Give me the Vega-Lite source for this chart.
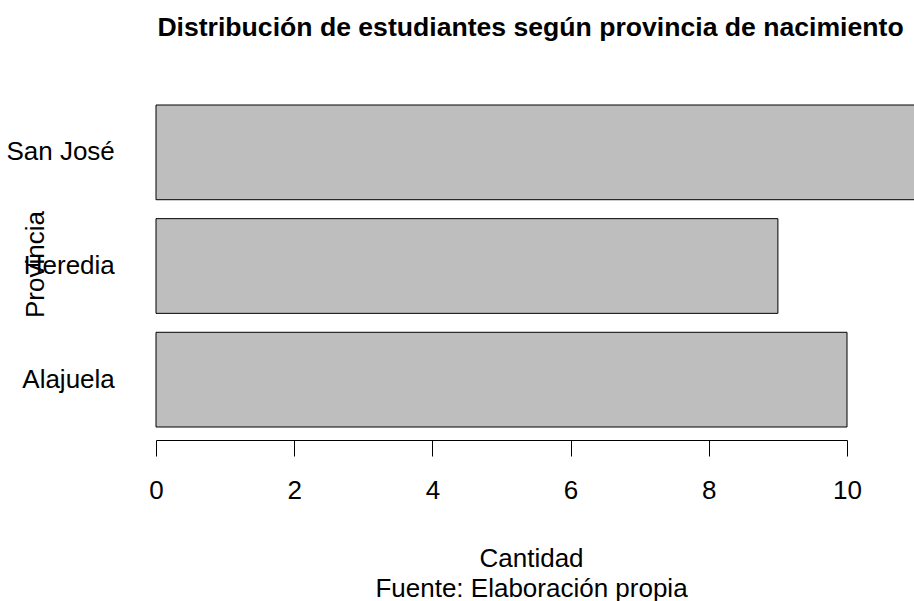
{
  "$schema": "https://vega.github.io/schema/vega-lite/v6.json",
  "autosize": "none",
  "width": 691,
  "height": 322,
  "padding": {"left": 156, "top": 105, "right": 67, "bottom": 174},
  "background": "white",
  "title": {
    "text": "Distribución de estudiantes según provincia de nacimiento",
    "font": "Liberation Sans",
    "fontSize": 26.6,
    "fontWeight": "bold",
    "color": "black",
    "anchor": "middle",
    "frame": "group",
    "dx": 29,
    "baseline": "alphabetic",
    "offset": 41.5
  },
  "data": {
    "values": [
      {"provincia": "San José", "cantidad": 11},
      {"provincia": "Heredia", "cantidad": 9},
      {"provincia": "Alajuela", "cantidad": 10}
    ]
  },
  "mark": {"type": "bar", "fill": "#BEBEBE", "stroke": "black", "strokeWidth": 1, "clip": false},
  "encoding": {
    "y": {
      "field": "provincia",
      "type": "nominal",
      "sort": ["San José", "Heredia", "Alajuela"],
      "scale": {"paddingInner": 0.1667, "paddingOuter": 0},
      "axis": {
        "domain": false,
        "ticks": false,
        "tickSize": 0,
        "labelPadding": 41.7,
        "labelFont": "Liberation Sans",
        "labelFontSize": 26,
        "labelColor": "black",
        "labelAlign": "right",
        "labelBaseline": "middle",
        "title": "Provincia",
        "titleFont": "Liberation Sans",
        "titleFontSize": 26,
        "titleFontWeight": "normal",
        "titleColor": "black",
        "titleAngle": -90,
        "titleX": -113,
        "titleY": 159,
        "titleAlign": "center",
        "titleBaseline": "alphabetic"
      }
    },
    "x": {
      "field": "cantidad",
      "type": "quantitative",
      "scale": {"domain": [0, 10], "nice": false},
      "axis": {
        "values": [0, 2, 4, 6, 8, 10],
        "offset": 13,
        "grid": false,
        "domainColor": "black",
        "domainWidth": 1,
        "tickColor": "black",
        "tickWidth": 1,
        "tickSize": 16,
        "labelFont": "Liberation Sans",
        "labelFontSize": 26,
        "labelColor": "black",
        "labelBaseline": "alphabetic",
        "labelPadding": 42.6,
        "labelFlush": false,
        "labelOverlap": false,
        "title": ["Cantidad", "Fuente: Elaboración propia"],
        "titleFont": "Liberation Sans",
        "titleFontSize": 26,
        "titleFontWeight": "normal",
        "titleColor": "black",
        "titleLineHeight": 30,
        "titleBaseline": "alphabetic",
        "titleX": 375,
        "titleY": 126.5,
        "titleAlign": "center"
      }
    }
  },
  "config": {"view": {"stroke": null}}
}
